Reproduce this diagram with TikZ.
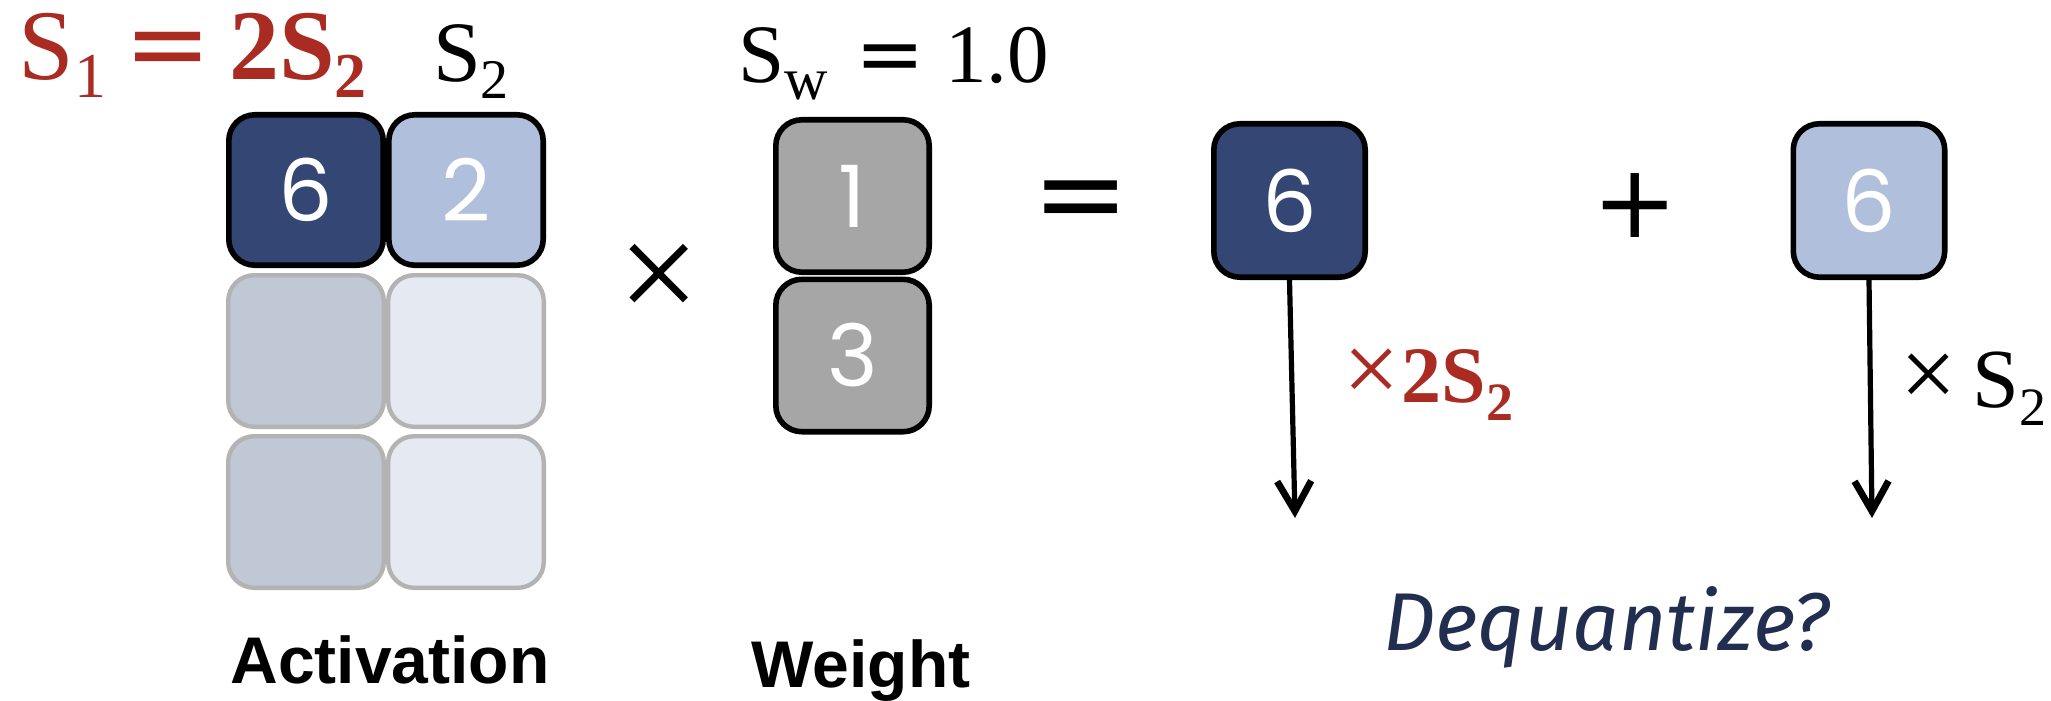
\documentclass[tikz,border=0pt]{standalone}
\usepackage{fontspec}
\usetikzlibrary{arrows.meta}
\setmainfont{Liberation Serif}
\newfontfamily\numfont{Poppins}
\newfontfamily\capfont{Liberation Sans}
\newfontfamily\notefont{Fira Sans}
\newfontfamily\opfont{DejaVu Sans}

\definecolor{navy}{HTML}{344673}
\definecolor{pale}{HTML}{B0BFDC}
\definecolor{navyfaded}{HTML}{C0C7D5}
\definecolor{palefaded}{HTML}{E5E9F2}
\definecolor{wgray}{HTML}{A6A6A6}
\definecolor{ghost}{HTML}{B3B3B3}
\definecolor{scalered}{HTML}{A92B22}
\definecolor{ink}{HTML}{212E50}

\newcommand\fsz[1]{\fontsize{#1}{#1}\selectfont}

\begin{document}
\begin{tikzpicture}[x=0.5pt,y=-0.5pt,
  cell/.style={draw=black,line width=2.8pt,rounded corners=13pt,inner sep=0pt,
    font=\numfont\fsz{43pt},text=white},
  actcell/.style={cell,minimum width=77.2pt,minimum height=75.2pt},
  ghostcell/.style={draw=ghost,line width=2.2pt,rounded corners=13pt,inner sep=0pt,
    minimum width=77.8pt,minimum height=75.8pt},
  wcell/.style={cell,fill=wgray,minimum width=76.7pt,minimum height=76.2pt},
  rescell/.style={cell,minimum width=75.7pt,minimum height=76.7pt},
  caption/.style={font=\capfont\bfseries\fsz{33pt},anchor=base,inner sep=0pt},
  op/.style={inner sep=0pt,anchor=center},
  lbl/.style={inner sep=0pt,anchor=base west},
  flow/.style={line width=2.6pt,-{Straight Barb[length=15pt,width=17pt,line width=3.4pt]}}
]
\useasboundingbox (0,0) rectangle (2051,701);

% activation tile grid: only the first row is active
\node[ghostcell,fill=navyfaded] (a21) at (306,351) {};
\node[ghostcell,fill=palefaded] (a22) at (466,351) {};
\node[ghostcell,fill=navyfaded] (a31) at (306,512) {};
\node[ghostcell,fill=palefaded] (a32) at (466,512) {};
\node[actcell,fill=navy] (a11) at (306,190) {6};
\node[actcell,fill=pale] (a12) at (466,190) {2};

% weight column
\node[wcell] (w1) at (852.5,196) {1};
\node[wcell] (w2) at (852.5,355.5) {3};

% partial products
\node[rescell,fill=navy] (r1) at (1289.5,200.5) {6};
\node[rescell,fill=pale] (r2) at (1869,200.5) {6};

% operators
\node[op,font=\fsz{72pt}] (times) at (659,283) {×};
\node[op,font=\opfont\fsz{58pt}] (equals) at (1081,207.5) {=};
\node[op,font=\opfont\fsz{51pt}] (plus) at (1635,206) {+};

% scale annotations
\node[lbl,text=scalered] (s1) at (18,80)
  {\fsz{50pt}S\raisebox{-9pt}{\fsz{32pt}1}\hspace{9pt}{\opfont\fsz{52pt}=}\hspace{9pt}\bfseries 2S\raisebox{-9pt}{\fsz{32pt}2}};
\node[inner sep=0pt,anchor=base] (s2) at (471,82)
  {\fsz{43pt}S\raisebox{-8.5pt}{\fsz{28pt}2}};
\node[lbl] (sw) at (738,83)
  {\fsz{41.5pt}S\raisebox{-8.5pt}{\fsz{30pt}w}\hspace{14pt}{\opfont =}\hspace{10pt}1.0};

% captions
\node[caption] (act) at (390,683) {Activation};
\node[caption] (wt) at (861,687) {Weight};
\node[lbl,font=\notefont\itshape\fsz{41pt},text=ink] (dq) at (1383,650) {Dequantize?};

% dequantization arrows
\coordinate (d1) at (1295,518);
\coordinate (d2) at (1872,518);
\draw[flow] (r1.south) -- (d1);
\draw[flow] (r2.south) -- (d2);

\node[lbl,text=scalered] (m1) at (1343,402)
  {\fsz{50pt}×\hspace{1pt}\fsz{40pt}\bfseries 2S\raisebox{-9pt}{\fsz{27pt}2}};
\node[lbl] (m2) at (1900,407)
  {\fsz{50pt}×\hspace{8pt}\fsz{42pt}S\raisebox{-9pt}{\fsz{27pt}2}};
\end{tikzpicture}
\end{document}
